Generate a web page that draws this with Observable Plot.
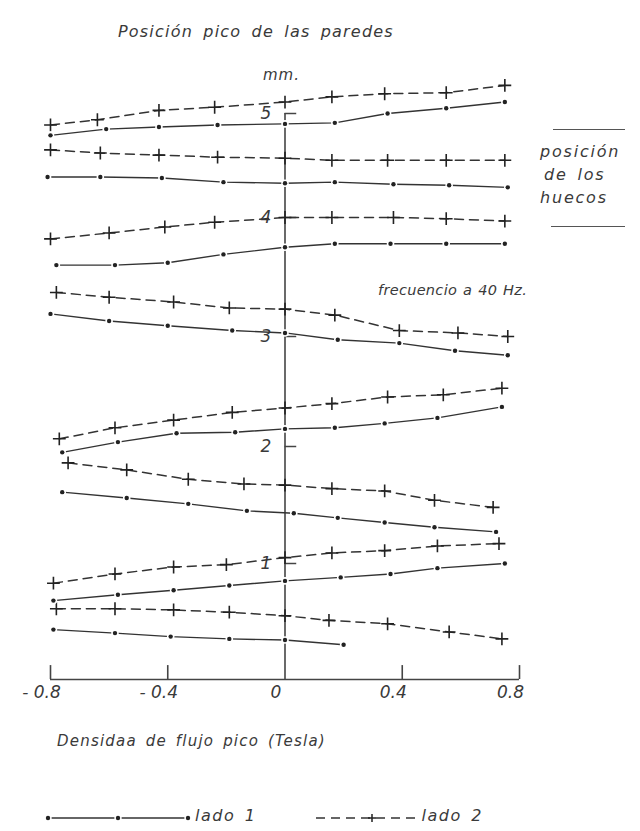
<!DOCTYPE html>
<html><head><meta charset="utf-8">
<script src="https://cdn.jsdelivr.net/npm/d3@7"></script>
<script src="https://cdn.jsdelivr.net/npm/@observablehq/plot@0.6"></script>
<style>
body{margin:0;background:#fff;}
#wrap{position:relative;width:640px;height:831px;overflow:hidden;font-family:"DejaVu Sans",sans-serif;font-style:oblique;color:#3a3a3a;}
#wrap svg.chart{position:absolute;left:0;top:0;}
.t{position:absolute;white-space:nowrap;line-height:1;letter-spacing:1px;word-spacing:3px;}
.rule{position:absolute;height:0;border-top:1.3px solid #555;}
.sw{display:inline-block;vertical-align:middle;}
</style></head><body><div id="wrap"></div>
<script>
// ---- data (mm vs. peak flux density, Tesla) ----
// lado 1 = solid line with dots, lado 2 = dashed line with crosses
const lado2_A = [[-0.8,4.89],[-0.64,4.94],[-0.43,5.03],[-0.24,5.06],[0,5.11],[0.16,5.16],[0.34,5.19],[0.55,5.20],[0.75,5.27]];
const lado1_A = [[-0.8,4.79],[-0.61,4.85],[-0.43,4.87],[-0.23,4.89],[0,4.90],[0.17,4.91],[0.35,5.00],[0.55,5.05],[0.75,5.11]];
const lado2_B = [[-0.8,4.65],[-0.63,4.62],[-0.43,4.60],[-0.23,4.58],[0,4.57],[0.16,4.55],[0.35,4.55],[0.55,4.55],[0.75,4.55]];
const lado1_B = [[-0.81,4.39],[-0.63,4.39],[-0.42,4.38],[-0.21,4.34],[0,4.33],[0.17,4.34],[0.37,4.32],[0.56,4.31],[0.76,4.29]];
const lado2_C = [[-0.8,3.82],[-0.6,3.87],[-0.41,3.92],[-0.24,3.96],[0,4.0],[0.16,4.0],[0.37,4.0],[0.55,3.99],[0.75,3.97]];
const lado1_C = [[-0.78,3.60],[-0.58,3.60],[-0.4,3.62],[-0.21,3.69],[0,3.75],[0.17,3.78],[0.36,3.78],[0.55,3.78],[0.75,3.78]];
const lado2_D = [[-0.78,3.37],[-0.6,3.33],[-0.38,3.29],[-0.19,3.24],[0,3.23],[0.17,3.18],[0.39,3.05],[0.59,3.03],[0.76,3.0]];
const lado1_D = [[-0.8,3.19],[-0.6,3.13],[-0.4,3.09],[-0.18,3.05],[0,3.03],[0.18,2.97],[0.39,2.94],[0.58,2.87],[0.76,2.83]];
const lado2_E = [[-0.77,2.07],[-0.58,2.17],[-0.38,2.24],[-0.18,2.31],[0,2.35],[0.16,2.39],[0.35,2.45],[0.54,2.47],[0.74,2.53]];
const lado1_E = [[-0.76,1.95],[-0.57,2.04],[-0.37,2.12],[-0.17,2.13],[0,2.16],[0.17,2.17],[0.34,2.21],[0.52,2.26],[0.74,2.36]];
const lado2_F = [[-0.74,1.86],[-0.54,1.80],[-0.33,1.72],[-0.14,1.68],[0,1.67],[0.16,1.64],[0.34,1.62],[0.51,1.54],[0.71,1.48]];
const lado1_F = [[-0.76,1.61],[-0.54,1.56],[-0.33,1.51],[-0.13,1.45],[0.03,1.43],[0.18,1.39],[0.34,1.35],[0.51,1.31],[0.72,1.27]];
const lado2_G = [[-0.79,0.83],[-0.58,0.91],[-0.38,0.97],[-0.2,0.99],[0,1.05],[0.16,1.09],[0.34,1.11],[0.52,1.15],[0.73,1.17]];
const lado1_G = [[-0.79,0.68],[-0.57,0.73],[-0.38,0.77],[-0.19,0.81],[0,0.85],[0.19,0.88],[0.36,0.91],[0.52,0.96],[0.75,1.0]];
const lado2_H = [[-0.78,0.61],[-0.58,0.61],[-0.38,0.60],[-0.19,0.58],[0,0.55],[0.15,0.51],[0.35,0.48],[0.56,0.41],[0.74,0.35]];
const lado1_H = [[-0.79,0.43],[-0.58,0.40],[-0.39,0.37],[-0.19,0.35],[0,0.34],[0.2,0.30]];

const xTicks = [-0.8, -0.4, 0, 0.4, 0.8];
const xTickLabels = ["- 0.8", "- 0.4", "0", "0.4", "0.8"];
const yTicks = [1, 2, 3, 4, 5];

// hand-drawn vertical axis: tick marks are not evenly spaced on the sheet
const yDomain = [0, 1, 2, 3, 4, 5];
const yRange = [679, 563, 446, 336, 217, 113];

const toRows = (arr, serie) => arr.map(([x, y]) => ({x, y, serie}));
const side1 = [["A",lado1_A],["B",lado1_B],["C",lado1_C],["D",lado1_D],["E",lado1_E],["F",lado1_F],["G",lado1_G],["H",lado1_H]].flatMap(([k,a]) => toRows(a, "1" + k));
const side2 = [["A",lado2_A],["B",lado2_B],["C",lado2_C],["D",lado2_D],["E",lado2_E],["F",lado2_F],["G",lado2_G],["H",lado2_H]].flatMap(([k,a]) => toRows(a, "2" + k));

const ink = "#333";
const font = "DejaVu Sans, sans-serif";

const chart = Plot.plot({
  width: 640,
  height: 831,
  marginLeft: 50,
  marginRight: 121,
  marginTop: 0,
  marginBottom: 0,
  style: {background: "transparent", fontFamily: font},
  x: {domain: [xTicks[0], xTicks[xTicks.length - 1]], axis: null},
  y: {type: "linear", domain: yDomain, range: yRange, axis: null},
  marks: [
    // axes
    Plot.ruleY([0], {x1: xTicks[0], x2: xTicks[xTicks.length - 1], stroke: "#444", strokeWidth: 1.6}),
    Plot.ruleX([0], {y1: 0, y2: yTicks[yTicks.length - 1], stroke: "#444", strokeWidth: 1.6}),
    Plot.ruleX(xTicks.filter(d => d !== 0), {y1: 0, y2: 0.12, stroke: "#444", strokeWidth: 1.6}),
    Plot.text(xTicks, {x: d => d, y: 0, text: (d, i) => xTickLabels[i], dy: 13, dx: -9, fontSize: 17, fontStyle: "oblique", fill: "#3a3a3a"}),
    Plot.ruleY(yTicks, {x1: 0, x2: 0.04, stroke: "#444", strokeWidth: 1.5}),
    Plot.text(yTicks, {x: 0, y: d => d, text: d => String(d), dx: -19, fontSize: 17, fontStyle: "oblique", fill: "#3a3a3a"}),
    // lado 2 : dashed with crosses
    Plot.line(side2, {x: "x", y: "y", z: "serie", stroke: ink, strokeWidth: 1.5, strokeDasharray: "9,6"}),
    Plot.dot(side2, {x: "x", y: "y", symbol: "plus", r: 4.2, stroke: "#222", strokeWidth: 1.6}),
    // lado 1 : solid with dots
    Plot.line(side1, {x: "x", y: "y", z: "serie", stroke: ink, strokeWidth: 1.4}),
    Plot.dot(side1, {x: "x", y: "y", r: 2.2, fill: "#222", stroke: "white", strokeWidth: 3.2, paintOrder: "stroke"})
  ]
});
chart.classList.add("chart");
const wrap = document.getElementById("wrap");
wrap.appendChild(chart);

function label(text, left, cy, size, extra) {
  const d = document.createElement("div");
  d.className = "t";
  d.textContent = text;
  d.style.left = left + "px";
  d.style.top = (cy - size * 0.55) + "px";
  d.style.fontSize = size + "px";
  if (extra) Object.assign(d.style, extra);
  wrap.appendChild(d);
  return d;
}
function hrule(left, top, width) {
  const r = document.createElement("div");
  r.className = "rule";
  r.style.left = left + "px"; r.style.top = top + "px"; r.style.width = width + "px";
  wrap.appendChild(r);
}

label("Posición pico de las paredes", 118, 33, 16, {letterSpacing: "1.2px", wordSpacing: "4px"});
label("mm.", 263, 76, 15);
hrule(553, 129, 72);
label("posición", 540, 153, 16, {letterSpacing: "1.8px"});
label("de los", 544, 176, 16, {letterSpacing: "1.8px"});
label("huecos", 540, 199, 16, {letterSpacing: "1.8px"});
hrule(551, 226, 74);
label("frecuencio a 40 Hz.", 378, 291, 14.5, {letterSpacing: "0.3px", wordSpacing: "1px"});
label("Densidaa  de  flujo pico   (Tesla)", 57, 742, 15, {letterSpacing: "1.2px"});

// legend
const leg = document.createElement("div");
leg.className = "t";
leg.style.left = "44px"; leg.style.top = "808px"; leg.style.fontSize = "16px"; leg.style.letterSpacing = "1.5px";
leg.innerHTML =
  '<svg class="sw" width="148" height="14"><line x1="4" y1="8" x2="144" y2="8" stroke="#333" stroke-width="1.4"/>' +
  '<circle cx="4" cy="8" r="2.2" fill="#222" stroke="#fff" stroke-width="3" paint-order="stroke"/>' +
  '<circle cx="74" cy="8" r="2.2" fill="#222" stroke="#fff" stroke-width="3" paint-order="stroke"/>' +
  '<circle cx="144" cy="8" r="2.2" fill="#222" stroke="#fff" stroke-width="3" paint-order="stroke"/></svg>' +
  '<span style="margin-left:3px">lado 1</span>' +
  '<svg class="sw" width="104" height="14" style="margin-left:58px"><line x1="2" y1="8" x2="102" y2="8" stroke="#333" stroke-width="1.5" stroke-dasharray="9,6"/>' +
  '<path d="M58,4V12M54,8H62" stroke="#222" stroke-width="1.5"/></svg>' +
  '<span style="margin-left:3px">lado 2</span>';
wrap.appendChild(leg);
</script>
</body></html>
